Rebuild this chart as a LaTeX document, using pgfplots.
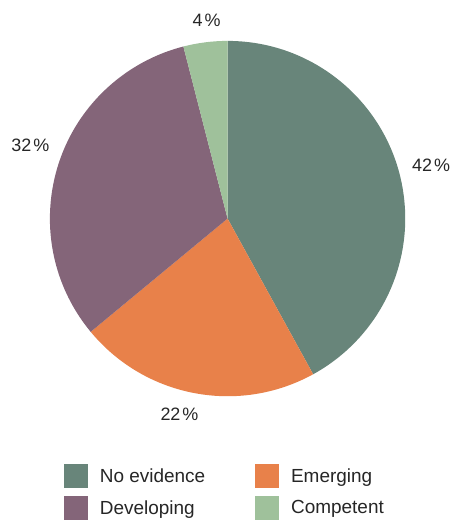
\documentclass[border=0pt]{standalone}
\usepackage{pgfplots}
\usepackage{pgfplotstable}
\pgfplotsset{compat=1.18}
\usepackage{fontspec}
\setmainfont{Liberation Sans}
\definecolor{cNo}{HTML}{68857A}
\definecolor{cEm}{HTML}{E8814A}
\definecolor{cDev}{HTML}{846579}
\definecolor{cComp}{HTML}{9FC19B}
\newcommand\lblfont{\fontsize{18}{21}\selectfont}
% share = slice value (%); lr, la = label radius and angle offset (layout)
\pgfplotstableread{
share col lr la
42 cNo 211 0.4
22 cEm 202 -3
32 cDev 211 -2.5
4 cComp 200 -1.2
}\piedata
\begin{document}
\begin{tikzpicture}
\begin{axis}[
  width=454pt, height=520pt, scale only axis,
  xmin=0, xmax=454, ymin=0, ymax=520,
  hide axis, clip=false,
  legend columns=2,
  legend cell align=left,
  legend image code/.code={\fill (0pt,-12pt) rectangle (24pt,12pt);},
  legend style={draw=none, fill=none, inner sep=0pt, outer sep=0pt,
    at={(axis cs:64,55)}, anchor=north west,
    font=\fontsize{19}{22}\selectfont, text=black!85,
    row sep=8pt,
    nodes={inner sep=0pt},
    /tikz/every odd column/.append style={column sep=12pt},
    /tikz/every even column/.append style={column sep=50pt}},
]
\path (axis cs:0,0) rectangle (axis cs:454,520);
\addlegendimage{fill=cNo, draw=none}
\addlegendentry{No evidence}
\addlegendimage{fill=cEm, draw=none}
\addlegendentry{Emerging}
\addlegendimage{fill=cDev, draw=none}
\addlegendentry{Developing}
\addlegendimage{fill=cComp, draw=none}
\addlegendentry{Competent}
\xdef\cum{90}
\pgfplotsinvokeforeach{0,...,3}{
  \pgfplotstablegetelem{#1}{share}\of\piedata \let\s\pgfplotsretval
  \pgfplotstablegetelem{#1}{col}\of\piedata \let\c\pgfplotsretval
  \pgfplotstablegetelem{#1}{lr}\of\piedata \let\lr\pgfplotsretval
  \pgfplotstablegetelem{#1}{la}\of\piedata \let\la\pgfplotsretval
  \pgfmathsetmacro{\a}{\cum}
  \pgfmathsetmacro{\b}{\cum-3.6*\s}
  \pgfmathsetmacro{\m}{(\a+\b)/2+\la}
  \pgfmathsetmacro{\lx}{228+\lr*cos(\m)}
  \pgfmathsetmacro{\ly}{301+\lr*sin(\m)}
  \edef\temp{\noexpand\fill[\c] (axis cs:228,301) -- ++(\a:178pt) arc[start angle=\a, end angle=\b, radius=178pt] -- cycle;
    \noexpand\node[font=\noexpand\lblfont, text=black!85] at (axis cs:\lx,\ly) {\s\noexpand\kern2pt\noexpand\%};}
  \temp
  \xdef\cum{\b}
}
\end{axis}
\end{tikzpicture}
\end{document}
